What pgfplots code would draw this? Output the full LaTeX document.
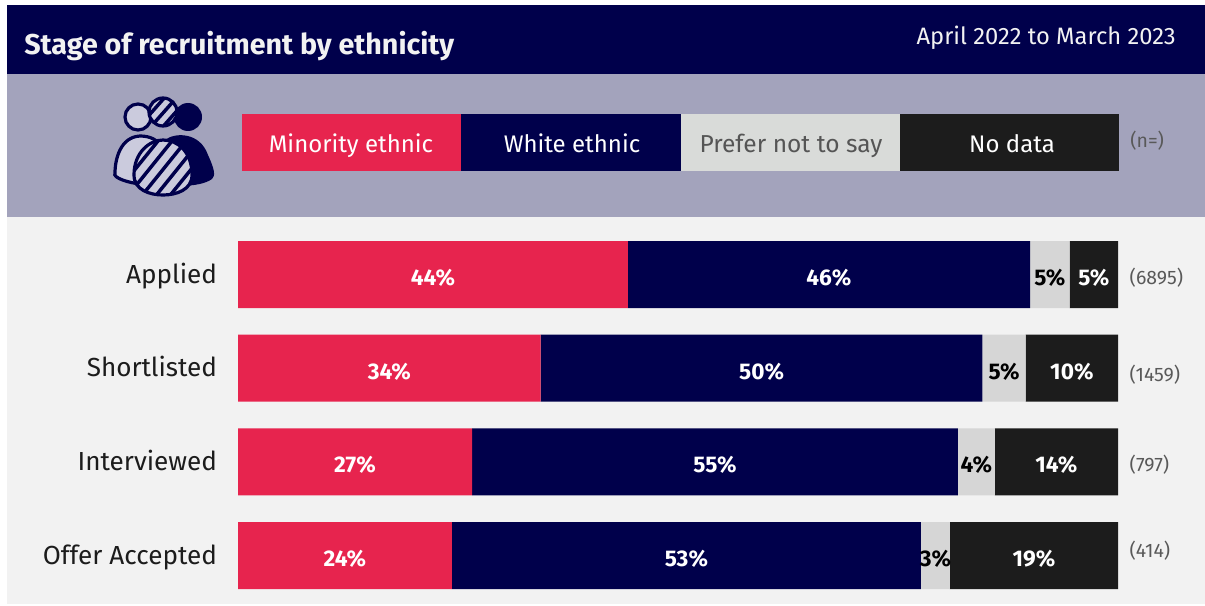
\documentclass[border=0pt]{standalone}
\usepackage{fontspec}
\setmainfont{Fira Sans}
\usepackage{pgfplots}
\usepackage{pgfplotstable}
\pgfplotsset{compat=1.18}
\definecolor{navy}{HTML}{00004B}
\definecolor{lavender}{HTML}{A3A3BC}
\definecolor{panel}{HTML}{F2F2F2}
\definecolor{crimson}{HTML}{E7244E}
\definecolor{pale}{HTML}{D6D6D6}
\definecolor{keypale}{HTML}{D9DBD9}
\definecolor{ink}{HTML}{1C1C1C}
\definecolor{iconfill}{HTML}{CBCBDD}
\newcommand{\fs}[1]{\fontsize{#1}{#1}\selectfont}
% Share of candidates at each recruitment stage (percent)
\pgfplotstableread{
row minority white prefer nodata
0   44.3  45.7  4.51  5.49
1   34.4  50.2  4.91  10.49
2   26.6  55.2  4.2   14.0
3   24.3  53.3  3.3   19.1
}\stages
\begin{document}
\begin{tikzpicture}[x=0.75pt,y=-0.75pt]
\path[use as bounding box,fill=white] (0,0) rectangle (1205,606);
\fill[panel] (7,217) rectangle (1205,604);
\fill[lavender] (7,74) rectangle (1205,217);
\fill[navy] (7,5) rectangle (1205,74);
\node[anchor=base west,text=panel,inner sep=0pt] at (24,55) {\fs{21.5}\bfseries Stage of recruitment by ethnicity};
\node[anchor=base east,text=panel,inner sep=0pt] at (1176,45) {\fs{17.8}April 2022 to March 2023};
% Key
\fill[crimson] (242,114) rectangle (461,171);
\fill[navy] (461,114) rectangle (681,171);
\fill[keypale] (681,114) rectangle (900,171);
\fill[ink] (900,114) rectangle (1119,171);
\node[anchor=base,text=white,inner sep=0pt] at (351,152) {\fs{18}Minority ethnic};
\node[anchor=base,text=white,inner sep=0pt] at (572,152) {\fs{18}White ethnic};
\node[anchor=base,text=ink!75,inner sep=0pt] at (791,152) {\fs{18.4}Prefer not to say};
\node[anchor=base,text=white,inner sep=0pt] at (1012,152) {\fs{18}No data};
\node[anchor=west,text=black!65,inner sep=0pt] at (1130,141) {\fs{14.6}(n=)};
% People icon
\fill[navy] (188,117) circle[radius=14];
\filldraw[fill=iconfill,draw=navy,line width=2.4pt] (138,117) circle[radius=13];
\fill[navy] (165,140) .. controls (175,132) and (200,132) .. (208,155) .. controls (214,168) and (216,176) .. (212,179) .. controls (205,184) and (195,185) .. (185,186) -- cycle;
\filldraw[fill=iconfill,draw=navy,line width=2.4pt] (115,173) .. controls (115,160) and (120,137) .. (140,136) .. controls (150,136) and (158,140) .. (160,146) -- (140,184) .. controls (130,183) and (112,178) .. (115,173) -- cycle;
\begin{scope}
\clip (163,112) circle[radius=14];
\fill[iconfill] (163,112) circle[radius=14];
\foreach \k in {-2,-1,0,1,2} {
  \draw[navy,line width=2.6pt] (148+\k*12,130) -- (178+\k*12,96);
}
\end{scope}
\draw[navy,line width=2.4pt] (163,112) circle[radius=14];
\begin{scope}
\clip (134,175) .. controls (134,152) and (150,140) .. (163,140) .. controls (178,140) and (192,152) .. (192,175) .. controls (192,190) and (176,195) .. (163,195) .. controls (150,195) and (134,190) .. (134,175) -- cycle;
\fill[iconfill] (130,135) rectangle (196,198);
\foreach \k in {-4,...,4} {
  \draw[navy,line width=2.6pt] (140+\k*14,198) -- (190+\k*14,136);
}
\end{scope}
\draw[navy,line width=2.4pt] (134,175) .. controls (134,152) and (150,140) .. (163,140) .. controls (178,140) and (192,152) .. (192,175) .. controls (192,190) and (176,195) .. (163,195) .. controls (150,195) and (134,190) .. (134,175) -- cycle;
\begin{axis}[
  at={(178.5pt,-170.75pt)}, anchor=north west,
  scale only axis,
  width=660pt, height=281pt,
  xmin=0, xmax=100, ymin=-0.5, ymax=3.5,
  y dir=reverse,
  xbar stacked,
  bar width=50.25pt,
  axis line style={draw=none},
  xtick=\empty,
  ytick={0,1,2,3},
  yticklabels={Applied,Shortlisted,Interviewed,Offer Accepted},
  major tick length=0pt,
  yticklabel style={font=\fs{19.6},text=ink,inner sep=0pt,xshift=-15.5pt,yshift=-1.5pt,text height=14pt,text depth=4pt},
  clip=false,
  point meta=rawx,
  nodes near coords={\pgfmathprintnumber[fixed,precision=0,assume math mode=true]{\pgfplotspointmeta}\%},
  nodes near coords style={anchor=center,inner sep=0pt,font=\fs{17}\bfseries,text height=12pt,text depth=0pt,yshift=-2.25pt},
]
\addplot[fill=crimson,draw=none,text=white] table[x=minority,y=row] {\stages};
\addplot[fill=navy,draw=none,text=white] table[x=white,y=row] {\stages};
\addplot[fill=pale,draw=none,text=black] table[x=prefer,y=row] {\stages};
\addplot[fill=ink,draw=none,text=white] table[x=nodata,y=row] {\stages};
\node[anchor=west,text=black!65,inner sep=0pt] at (axis cs:101.3,0.03) {\fs{14.6}(6895)};
\node[anchor=west,text=black!65,inner sep=0pt] at (axis cs:101.3,1.07) {\fs{14.6}(1459)};
\node[anchor=west,text=black!65,inner sep=0pt] at (axis cs:101.3,2.03) {\fs{14.6}(797)};
\node[anchor=west,text=black!65,inner sep=0pt] at (axis cs:101.3,2.95) {\fs{14.6}(414)};
\end{axis}
\end{tikzpicture}
\end{document}
